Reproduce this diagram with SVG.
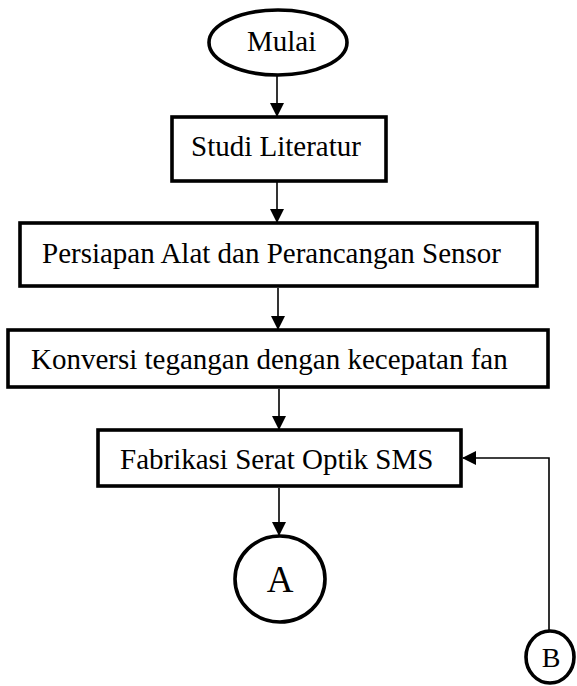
<svg xmlns="http://www.w3.org/2000/svg" width="577" height="686" viewBox="0 0 577 686">
<defs>
<style>
.shape{fill:#fff;stroke:#000;stroke-width:3.6}
.lbl{font-family:"Liberation Serif","Times New Roman",serif;font-size:29px;fill:#000}
.conn{fill:none;stroke:#000;stroke-width:1.6}
</style>
<marker id="ah" viewBox="0 0 14 14" refX="13" refY="7" markerWidth="14" markerHeight="14" markerUnits="userSpaceOnUse" orient="auto">
<path d="M0,0 L14,7 L0,14 Z" fill="#000"/>
</marker>
</defs>
<rect width="577" height="686" fill="#fff"/>
<g id="connectors">
<line class="conn" x1="277" y1="76" x2="277" y2="116" marker-end="url(#ah)"/>
<line class="conn" x1="277" y1="182" x2="277" y2="222" marker-end="url(#ah)"/>
<line class="conn" x1="278" y1="288" x2="278" y2="329" marker-end="url(#ah)"/>
<line class="conn" x1="279" y1="389" x2="279" y2="429" marker-end="url(#ah)"/>
<line class="conn" x1="279" y1="488" x2="279" y2="535" marker-end="url(#ah)"/>
<polyline class="conn" points="549,630 549,458 463,458" marker-end="url(#ah)"/>
</g>
<g id="mulai">
<ellipse class="shape" cx="278" cy="42.5" rx="69" ry="32.5"/>
<text class="lbl" x="247" y="51">Mulai</text>
</g>
<g id="studi">
<rect class="shape" x="172" y="117" width="214" height="64"/>
<text class="lbl" x="191" y="156">Studi Literatur</text>
</g>
<g id="persiapan">
<rect class="shape" x="20" y="223" width="517" height="63"/>
<text class="lbl" x="42" y="263">Persiapan Alat dan Perancangan Sensor</text>
</g>
<g id="konversi">
<rect class="shape" x="8" y="330" width="540" height="57"/>
<text class="lbl" x="31" y="369">Konversi tegangan dengan kecepatan fan</text>
</g>
<g id="fabrikasi">
<rect class="shape" x="98" y="430" width="363" height="56"/>
<text class="lbl" x="120" y="469">Fabrikasi Serat Optik SMS</text>
</g>
<g id="a">
<ellipse class="shape" cx="280" cy="579" rx="45" ry="43"/>
<text class="lbl" x="280" y="592" text-anchor="middle" style="font-size:37px">A</text>
</g>
<g id="b">
<ellipse class="shape" cx="550" cy="657" rx="24" ry="26"/>
<text class="lbl" x="551" y="667" text-anchor="middle" style="font-size:28px">B</text>
</g>
</svg>
